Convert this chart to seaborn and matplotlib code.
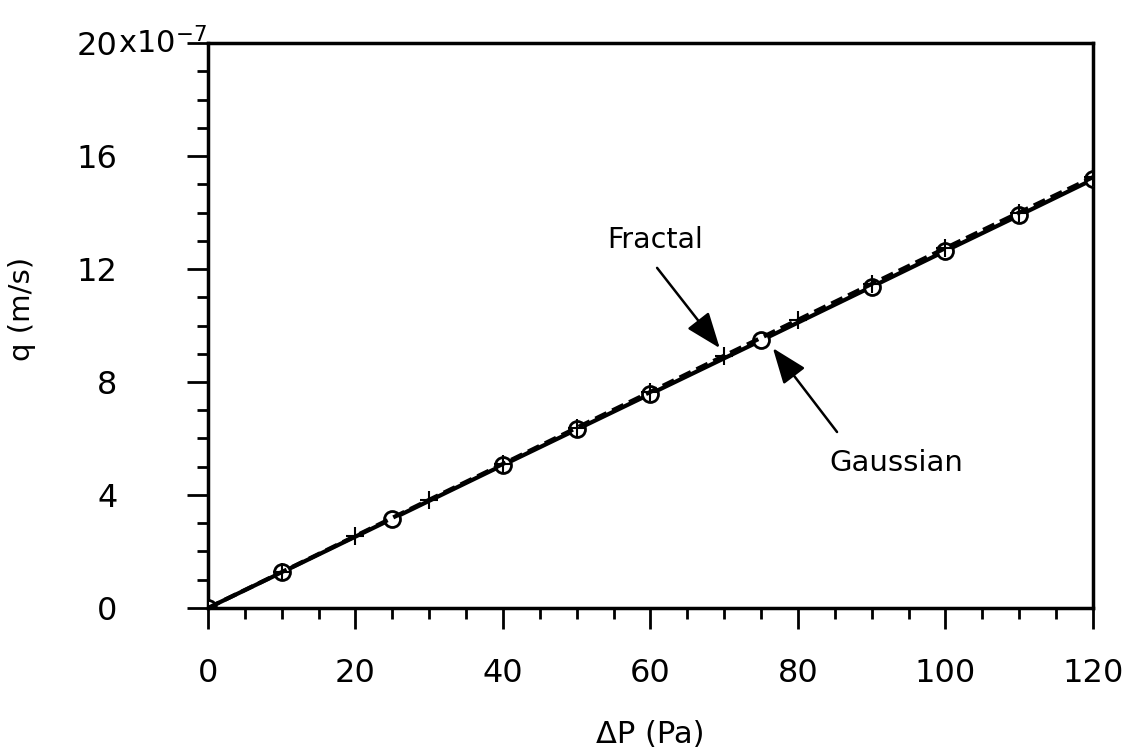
import matplotlib
matplotlib.use("Agg")
import matplotlib.pyplot as plt
import seaborn as sns
import pandas as pd
from matplotlib.ticker import MultipleLocator, FixedLocator

# Data (q in units of 1e-7 m/s)
fractal_dp = [0, 10, 20, 30, 40, 50, 60, 70, 80, 90, 100, 110, 120]
fractal_q = [0.0, 1.27, 2.55, 3.83, 5.10, 6.38, 7.65, 8.93, 10.2, 11.47, 12.74, 14.0, 15.25]
gauss_dp = [0, 10, 25, 40, 50, 60, 75, 90, 100, 110, 120]
gauss_q = [0.0, 1.26, 3.16, 5.06, 6.32, 7.58, 9.47, 11.37, 12.64, 13.9, 15.17]
y_ticks = [0, 4, 8, 12, 16, 20]
y_ticklabels = ["0", "4", "8", "12", "16", "20"]
y_multiplier = "x10$^{-7}$"
x_ticks = [0, 20, 40, 60, 80, 100, 120]

sns.set_theme(style="ticks")
plt.rcParams['font.family'] = ['DejaVu Sans']
plt.rcParams['text.color'] = 'black'
plt.rcParams['axes.labelcolor'] = 'black'
plt.rcParams['mathtext.default'] = 'regular'

df_f = pd.DataFrame({"dp": fractal_dp, "q": fractal_q})
df_g = pd.DataFrame({"dp": gauss_dp, "q": gauss_q})

fig = plt.figure(figsize=(11.32, 7.52), dpi=100)
ax = fig.add_axes([0.1837, 0.1915, 0.7818, 0.7513])

sns.lineplot(data=df_g, x="dp", y="q", ax=ax, color="black", linewidth=3,
             marker="o", markersize=11.5, markerfacecolor="white",
             markeredgecolor="black", markeredgewidth=2, zorder=3)
sns.lineplot(data=df_f, x="dp", y="q", ax=ax, color="black", linewidth=3,
             linestyle=(0, (3, 1.5)), marker="+", markersize=13,
             markeredgewidth=1.5, markeredgecolor="black", zorder=4)

ax.set_xlim(0, 120)
ax.set_ylim(0, 20)
ax.xaxis.set_major_locator(FixedLocator(x_ticks))
ax.xaxis.set_minor_locator(MultipleLocator(5))
ax.yaxis.set_major_locator(FixedLocator(y_ticks))
ax.yaxis.set_minor_locator(MultipleLocator(1))
ax.set_yticklabels(y_ticklabels)
ax.set_xticklabels([str(v) for v in x_ticks])

ax.tick_params(axis="both", which="major", direction="out", length=15, width=2,
               labelsize=23, color="black", labelcolor="black")
ax.tick_params(axis="both", which="minor", direction="out", length=8, width=2,
               color="black")
ax.tick_params(axis="y", which="major", pad=50)
ax.tick_params(axis="x", which="major", pad=21)
for s in ax.spines.values():
    s.set_visible(True)
    s.set_linewidth(2.5)
    s.set_color("black")

# multiplier appended to the top tick label
ax.annotate(y_multiplier, xy=(0, 1), xycoords="axes fraction",
            xytext=(-65, 0), textcoords="offset points",
            fontsize=22, ha="left", va="center")

ax.set_xlabel("\u0394P (Pa)", fontsize=22)
ax.xaxis.set_label_coords(0.5, -0.198)
ax.set_ylabel("q (m/s)", fontsize=21)
ax.yaxis.set_label_coords(-0.194, 0.53)

ax.text(60.7, 13.03, "Fractal", fontsize=20.5, ha="center", va="center")
ax.text(93.3, 5.13, "Gaussian", fontsize=21, ha="center", va="center")
arrow = dict(arrowstyle="-|>,head_length=1.1,head_width=0.42", color="black",
             lw=1.8, shrinkA=0, shrinkB=0, mutation_scale=20)
ax.annotate("", xy=(69.4, 9.2), xytext=(60.9, 12.04), arrowprops=arrow)
ax.annotate("", xy=(76.6, 9.2), xytext=(85.3, 6.23), arrowprops=arrow)

ax.grid(False)
fig.savefig("out.png", dpi=100)
